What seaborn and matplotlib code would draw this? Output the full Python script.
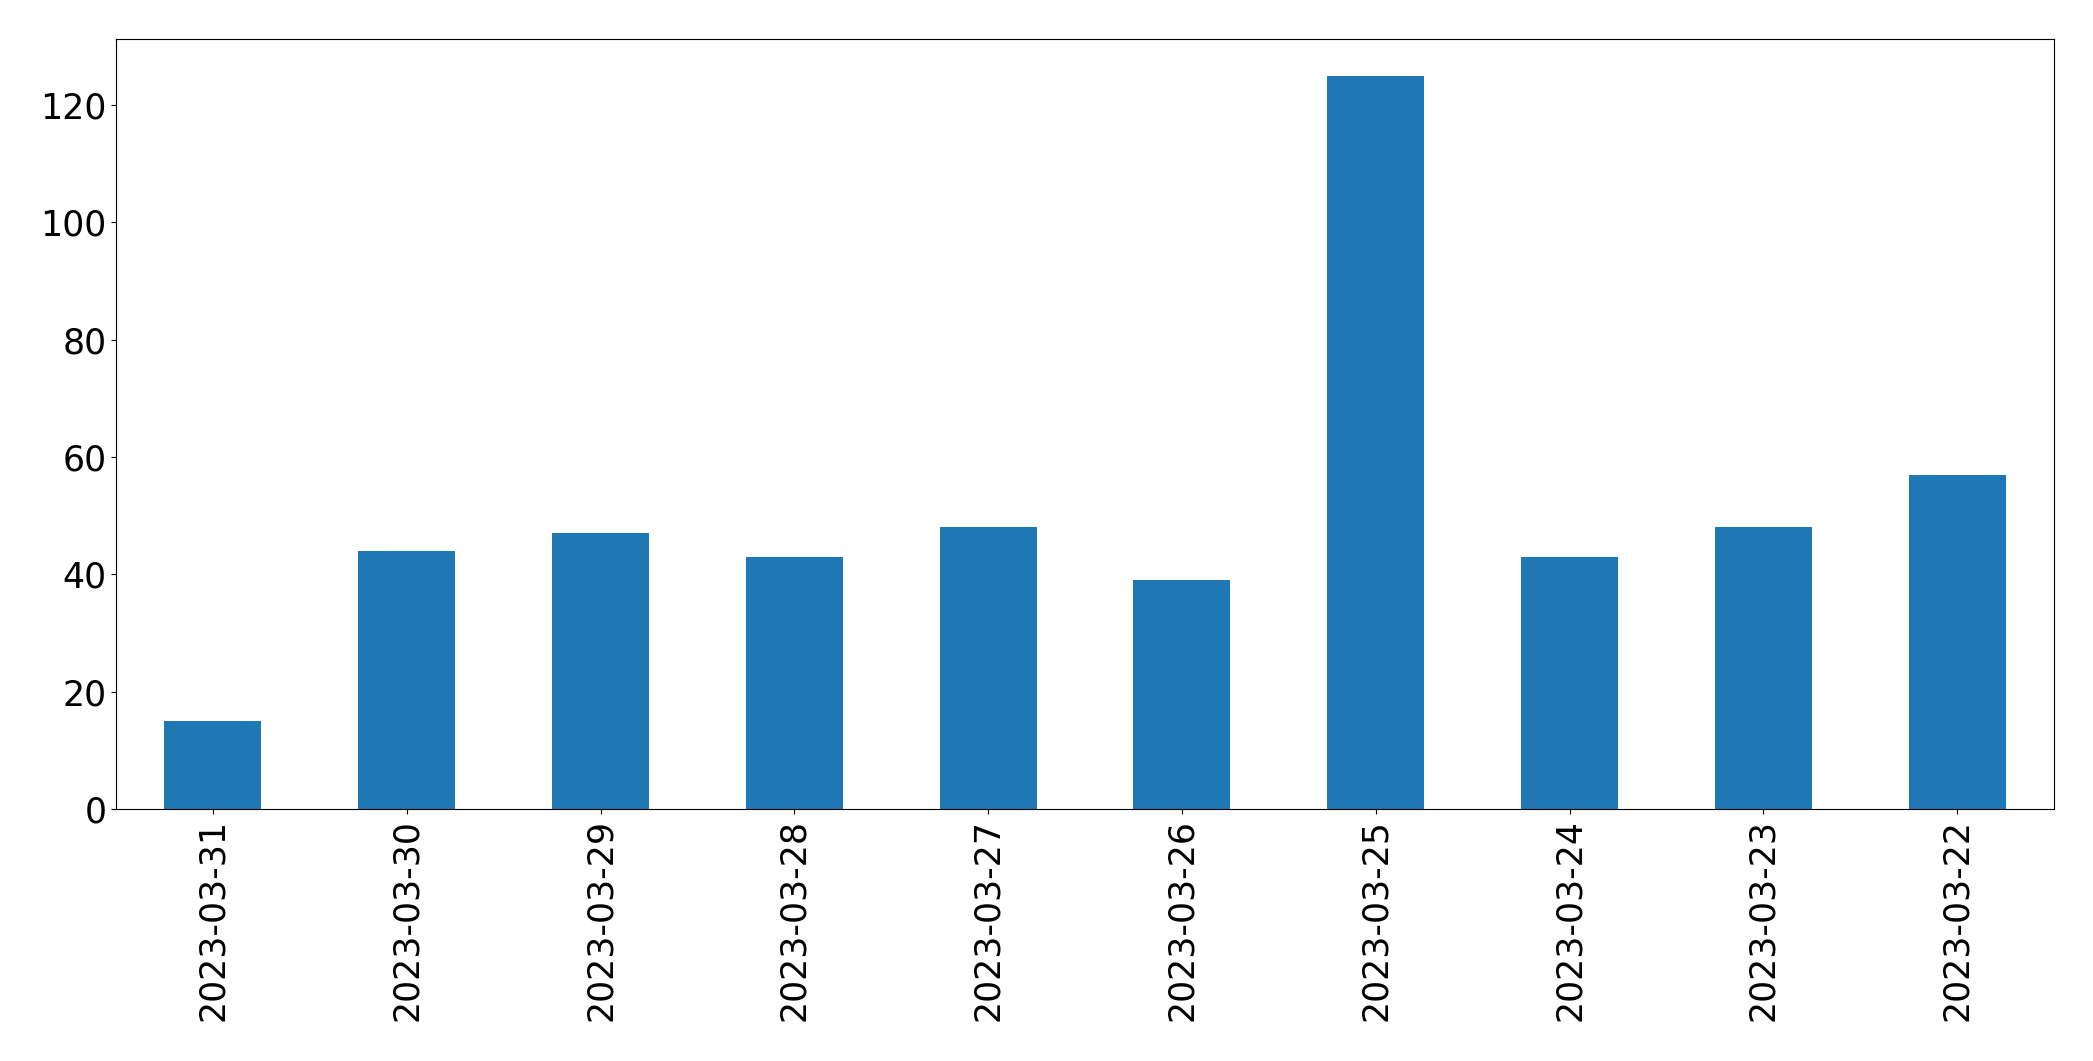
import pandas as pd
import numpy as np
import matplotlib
matplotlib.use('Agg')
import matplotlib.pyplot as plt
import seaborn as sns

# daily counts, newest first (as in the reference)
dates  = ['2023-03-31', '2023-03-30', '2023-03-29', '2023-03-28', '2023-03-27',
          '2023-03-26', '2023-03-25', '2023-03-24', '2023-03-23', '2023-03-22']
counts = [15, 44, 47, 43, 48, 39, 125, 43, 48, 57]

df = pd.DataFrame({'date': dates, 'count': counts})

fig, ax = plt.subplots(figsize=(20.93, 10.61), dpi=100)
fig.subplots_adjust(left=116/2093, right=2054/2093, top=1 - 39/1061, bottom=1 - 809/1061)

sns.barplot(data=df, x='date', y='count', order=dates, color='#1f77b4',
            saturation=1, width=0.5, ax=ax)

ax.set_xlim(-0.5, len(dates) - 0.5)
ax.set_ylim(0, max(counts) * 1.05)
ax.set_xlabel(''); ax.set_ylabel('')
ax.tick_params(axis='both', labelsize=25)
ax.tick_params(axis='x', labelrotation=90)

plt.savefig('out.png', dpi=100)
plt.close()
